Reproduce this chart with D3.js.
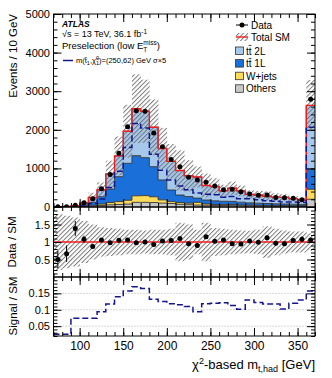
<!DOCTYPE html>
<html>
<head>
<meta charset="utf-8">
<script src="https://cdn.jsdelivr.net/npm/d3@7"></script>
<style>
  body { margin: 0; background: #fff; }
  svg { display: block; font-family: "Liberation Sans", Arial, sans-serif; }
</style>
</head>
<body>
<svg id="chart"></svg>
<script>
// bins of the chi2-based m_t,had distribution (10 GeV wide, last one is overflow)
const binLow = d3.range(70, 370, 10);
const dataCounts = [4, 8, 43, 112, 215, 475, 840, 1390, 2080, 2495, 2480, 1920, 1562, 1230, 1040,
  769, 699, 642, 544, 444, 462, 392, 337, 307, 311, 247, 237, 225, 190, 2790];
const others = [2, 3, 5, 15, 25, 40, 55, 65, 75, 120, 120, 115, 100, 90, 70,
  60, 50, 45, 40, 38, 36, 34, 30, 28, 26, 24, 22, 20, 18, 200];
const wjets = [1, 1, 3, 10, 20, 35, 60, 75, 100, 170, 175, 150, 85, 50, 45,
  40, 70, 35, 25, 25, 30, 20, 18, 15, 15, 14, 13, 12, 10, 260];
const ttbar1L = [2, 3, 9, 34, 76, 193, 351, 646, 956, 1040, 983, 780, 515, 300, 195,
  170, 110, 100, 95, 85, 80, 70, 60, 55, 50, 45, 42, 40, 35, 520];
const ttbar2L = [3, 5, 14, 45, 126, 180, 391, 538, 831, 1216, 1202, 1020, 817, 743, 635,
  539, 547, 378, 373, 271, 340, 293, 219, 212, 187, 174, 172, 144, 113, 1652];
const signalCounts = [0.2, 0.3, 2.3, 7.7, 18.3, 42, 101, 185, 308, 433, 409, 273, 190, 140, 109,
  89, 73, 66, 64, 51, 55, 42.5, 42.5, 37.8, 32.8, 30.3, 25.4, 25.9, 22.9, 413];
const sysUnc = [0.8, 0.75, 0.7, 0.6, 0.5, 0.42, 0.4, 0.38, 0.35, 0.35, 0.33, 0.35, 0.35, 0.38, 0.55,
  0.5, 0.35, 0.55, 0.4, 0.38, 0.35, 0.33, 0.32, 0.35, 0.45, 0.38, 0.33, 0.3, 0.3, 0.25];

const mainYTicks = [0, 1000, 2000, 3000, 4000, 5000];
const ratioYTicks = [0.5, 1, 1.5];
const sigYTicks = [0.05, 0.1, 0.15];
const xTicks = [100, 150, 200, 250, 300, 350];

const legendItems = [
  { name: "tt\u0304 2L", color: "#a6c8eb" },
  { name: "tt\u0304 1L", color: "#1a70d8" },
  { name: "W+jets", color: "#fddc5a" },
  { name: "Others", color: "#c8c8c8" }
];
const stackKeys = ["others", "wjets", "tt1L", "tt2L"];
const stackColors = { others: "#c8c8c8", wjets: "#fddc5a", tt1L: "#1a70d8", tt2L: "#a6c8eb" };

const width = 332, height = 378;
const left = 53.5, right = 315;
const mainTop = 14, mainBottom = 207, ratioBottom = 277, sigBottom = 336;

const svg = d3.select("#chart").attr("width", width).attr("height", height);

const x = d3.scaleLinear().domain([70, 370]).range([left, right]);
const yMain = d3.scaleLinear().domain([0, 5000]).range([mainBottom, mainTop]);
const yRatio = d3.scaleLinear().domain([0, 2]).range([ratioBottom, mainBottom]);
const ySig = d3.scaleLinear().domain([0.02, 0.2]).range([sigBottom, ratioBottom]);

const rows = binLow.map((lo, i) => ({
  lo: lo, hi: lo + 10,
  data: dataCounts[i],
  others: others[i], wjets: wjets[i], tt1L: ttbar1L[i], tt2L: ttbar2L[i],
  signal: signalCounts[i], unc: sysUnc[i]
}));
rows.forEach(d => { d.total = d.others + d.wjets + d.tt1L + d.tt2L; });

const defs = svg.append("defs");
defs.append("pattern")
  .attr("id", "hatch")
  .attr("patternUnits", "userSpaceOnUse")
  .attr("width", 3.2).attr("height", 3.2)
  .attr("patternTransform", "rotate(45)")
  .append("line")
  .attr("x1", 0.5).attr("y1", 0).attr("x2", 0.5).attr("y2", 3.2)
  .attr("stroke", "#6e6e6e").attr("stroke-width", 0.9);

function clip(id, top, bottom) {
  defs.append("clipPath").attr("id", id)
    .append("rect").attr("x", left).attr("y", top)
    .attr("width", right - left).attr("height", bottom - top);
}
clip("clipMain", mainTop, mainBottom);
clip("clipRatio", mainBottom, ratioBottom);
clip("clipSig", ratioBottom, sigBottom);

// step outline through every bin
function steps(valueFn, y) {
  let pts = [];
  rows.forEach(d => {
    pts.push([x(d.lo), y(valueFn(d))]);
    pts.push([x(d.hi), y(valueFn(d))]);
  });
  return d3.line()(pts);
}

// ---------- main panel ----------
let main = svg.append("g").attr("clip-path", "url(#clipMain)");
let stacked = d3.stack().keys(stackKeys)(rows);

let stepArea = d3.area().x(p => p.x).y0(p => p.y0).y1(p => p.y1);
stacked.forEach(layer => {
  let pts = [];
  layer.forEach(d => {
    pts.push({ x: x(d.data.lo), y0: yMain(d[0]), y1: yMain(d[1]) });
    pts.push({ x: x(d.data.hi), y0: yMain(d[0]), y1: yMain(d[1]) });
  });
  main.append("path")
    .attr("d", stepArea(pts))
    .attr("fill", stackColors[layer.key]);
});
stacked.forEach(layer => {
  let pts = [];
  layer.forEach(d => {
    pts.push([x(d.data.lo), yMain(d[1])]);
    pts.push([x(d.data.hi), yMain(d[1])]);
  });
  main.append("path")
    .attr("d", d3.line()(pts))
    .attr("fill", "none")
    .attr("stroke", layer.key == "tt2L" ? "#1c2a80" : "#333")
    .attr("stroke-width", 0.9);
});

main.append("g").selectAll("rect")
  .data(rows)
  .join("rect")
  .attr("x", d => x(d.lo))
  .attr("width", d => x(d.hi) - x(d.lo) + 0.3)
  .attr("y", d => yMain(d.total * (1 + d.unc)))
  .attr("height", d => yMain(d.total * (1 - d.unc)) - yMain(d.total * (1 + d.unc)))
  .attr("fill", "url(#hatch)");

main.append("path")
  .attr("d", steps(d => d.total, yMain))
  .attr("fill", "none").attr("stroke", "#f21d1d").attr("stroke-width", 1.4);

main.append("path")
  .attr("d", steps(d => d.signal * 5, yMain))
  .attr("fill", "none").attr("stroke", "#14168a").attr("stroke-width", 1.5)
  .attr("stroke-dasharray", "6,3");

let dataPts = main.append("g").selectAll("g").data(rows).join("g");
dataPts.append("line")
  .attr("x1", d => x(d.lo + 5)).attr("x2", d => x(d.lo + 5))
  .attr("y1", d => yMain(d.data + Math.sqrt(d.data)))
  .attr("y2", d => yMain(d.data - Math.sqrt(d.data)))
  .attr("stroke", "#000").attr("stroke-width", 1);
dataPts.append("circle")
  .attr("cx", d => x(d.lo + 5)).attr("cy", d => yMain(d.data))
  .attr("r", 2.5).attr("fill", "#000");

// ---------- ratio panel ----------
let ratio = svg.append("g").attr("clip-path", "url(#clipRatio)");
ratio.append("g").selectAll("rect")
  .data(rows)
  .join("rect")
  .attr("x", d => x(d.lo))
  .attr("width", d => x(d.hi) - x(d.lo) + 0.3)
  .attr("y", d => yRatio(1 + d.unc))
  .attr("height", d => yRatio(1 - d.unc) - yRatio(1 + d.unc))
  .attr("fill", "url(#hatch)");
ratio.append("line")
  .attr("x1", left).attr("x2", right)
  .attr("y1", yRatio(1)).attr("y2", yRatio(1))
  .attr("stroke", "#f21d1d").attr("stroke-width", 1.4);
let ratioPts = ratio.append("g").selectAll("g").data(rows).join("g");
ratioPts.append("line")
  .attr("x1", d => x(d.lo + 5)).attr("x2", d => x(d.lo + 5))
  .attr("y1", d => yRatio((d.data + Math.sqrt(d.data)) / d.total))
  .attr("y2", d => yRatio((d.data - Math.sqrt(d.data)) / d.total))
  .attr("stroke", "#000").attr("stroke-width", 1);
ratioPts.append("circle")
  .attr("cx", d => x(d.lo + 5)).attr("cy", d => yRatio(d.data / d.total))
  .attr("r", 2.5).attr("fill", "#000");

// ---------- signal / SM panel ----------
let sig = svg.append("g").attr("clip-path", "url(#clipSig)");
sig.append("g").selectAll("line")
  .data(sigYTicks)
  .join("line")
  .attr("x1", left).attr("x2", right)
  .attr("y1", d => ySig(d)).attr("y2", d => ySig(d))
  .attr("stroke", "#999").attr("stroke-width", 0.8).attr("stroke-dasharray", "1,2");
sig.append("path")
  .attr("d", steps(d => d.signal / d.total, ySig))
  .attr("fill", "none").attr("stroke", "#14168a").attr("stroke-width", 1.5)
  .attr("stroke-dasharray", "6,3");

// ---------- axes and frames ----------
function panelAxes(y, top, bottom, major, minor, fmt, showX) {
  let g = svg.append("g");
  let put = (axis, tx, ty) => {
    let a = g.append("g").attr("transform", `translate(${tx},${ty})`).call(axis);
    a.select(".domain").remove();
    a.attr("font-family", null).attr("font-size", null);
    a.selectAll("line").attr("stroke", "#000");
    return a;
  };
  put(d3.axisLeft(y).tickValues(major).tickSize(-8).tickPadding(3.5).tickFormat(fmt), left, 0)
    .selectAll("text").attr("font-size", 11).attr("fill", "#000");
  put(d3.axisLeft(y).tickValues(minor).tickSize(-4).tickFormat(""), left, 0);
  put(d3.axisRight(y).tickValues(major).tickSize(-8).tickFormat(""), right, 0);
  put(d3.axisRight(y).tickValues(minor).tickSize(-4).tickFormat(""), right, 0);

  let xMinor = d3.range(70, 371, 10);
  put(d3.axisTop(x).tickValues(xTicks).tickSize(-8).tickFormat(""), 0, top);
  put(d3.axisTop(x).tickValues(xMinor).tickSize(-4).tickFormat(""), 0, top);
  let xb = put(d3.axisBottom(x).tickValues(xTicks).tickSize(-8).tickPadding(5)
    .tickFormat(showX ? d3.format("d") : ""), 0, bottom);
  xb.selectAll("text").attr("font-size", 12).attr("fill", "#000");
  put(d3.axisBottom(x).tickValues(xMinor).tickSize(-4).tickFormat(""), 0, bottom);

  g.append("rect")
    .attr("x", left).attr("y", top)
    .attr("width", right - left).attr("height", bottom - top)
    .attr("fill", "none").attr("stroke", "#000").attr("stroke-width", 1);
}

panelAxes(yMain, mainTop, mainBottom, mainYTicks, d3.range(0, 5001, 200), d3.format("d"), false);
panelAxes(yRatio, mainBottom, ratioBottom, ratioYTicks, d3.range(0.1, 2, 0.1), d => d, false);
panelAxes(ySig, ratioBottom, sigBottom, sigYTicks, d3.range(0.02, 0.2, 0.01), d => d, true);

// ---------- axis titles ----------
svg.append("text")
  .attr("transform", "translate(16.5,14) rotate(-90)")
  .attr("text-anchor", "end").attr("font-size", 11.5)
  .text("Events / 10 GeV");
svg.append("text")
  .attr("transform", "translate(16,242) rotate(-90)")
  .attr("text-anchor", "middle").attr("font-size", 11.5)
  .text("Data / SM");
svg.append("text")
  .attr("transform", "translate(16.5,306) rotate(-90)")
  .attr("text-anchor", "middle").attr("font-size", 11.5)
  .text("Signal / SM");

let xt = svg.append("text")
  .attr("x", right).attr("y", 369)
  .attr("text-anchor", "end").attr("font-size", 13);
xt.append("tspan").text("\u03c7");
xt.append("tspan").attr("font-size", 9).attr("dy", -5).text("2");
xt.append("tspan").attr("dy", 5).text("-based m");
xt.append("tspan").attr("font-size", 9).attr("dy", 3).text("t,had");
xt.append("tspan").attr("dy", -3).text(" [GeV]");

// ---------- ATLAS labels ----------
svg.append("text")
  .attr("x", 62).attr("y", 26.5)
  .attr("font-size", 8.5).attr("font-weight", "bold").attr("font-style", "italic")
  .text("ATLAS");
let lumi = svg.append("text").attr("x", 62).attr("y", 37).attr("font-size", 9);
lumi.append("tspan").text("\u221as = 13 TeV, 36.1 fb");
lumi.append("tspan").attr("font-size", 6.5).attr("dy", -3.5).text("-1");
let presel = svg.append("text").attr("x", 62).attr("y", 49).attr("font-size", 9.5);
presel.append("tspan").text("Preselection (low E");
presel.append("tspan").attr("font-size", 6.5).attr("dy", 2.5).text("T");
presel.append("tspan").attr("font-size", 6.5).attr("dx", -4).attr("dy", -6.5).text("miss");
presel.append("tspan").attr("dy", 4).text(")");

svg.append("line")
  .attr("x1", 63).attr("x2", 73).attr("y1", 60.5).attr("y2", 60.5)
  .attr("stroke", "#14168a").attr("stroke-width", 1.5);
let sigLab = svg.append("text").attr("x", 76).attr("y", 63).attr("font-size", 7.5);
sigLab.append("tspan").text("m(t\u0303");
sigLab.append("tspan").attr("font-size", 5.5).attr("dy", 2).text("1");
sigLab.append("tspan").attr("dy", -2).text(",\u03c7\u0303");
sigLab.append("tspan").attr("font-size", 5.5).attr("dy", 2).text("1");
sigLab.append("tspan").attr("font-size", 5.5).attr("dx", -3).attr("dy", -5.5).text("0");
sigLab.append("tspan").attr("dy", 3.5).text(")=(250,62) GeV \u03c3\u00d75");

// ---------- legend ----------
let leg = svg.append("g");
leg.append("line").attr("x1", 236).attr("x2", 248).attr("y1", 25).attr("y2", 25)
  .attr("stroke", "#000").attr("stroke-width", 1);
leg.append("circle").attr("cx", 242).attr("cy", 25).attr("r", 2.5).attr("fill", "#000");
leg.append("text").attr("x", 251).attr("y", 28.5).attr("font-size", 10).text("Data");

leg.append("rect").attr("x", 236).attr("y", 33).attr("width", 12).attr("height", 8)
  .attr("fill", "url(#hatch)");
leg.append("line").attr("x1", 236).attr("x2", 248).attr("y1", 37).attr("y2", 37)
  .attr("stroke", "#f21d1d").attr("stroke-width", 1.4);
leg.append("text").attr("x", 251).attr("y", 41).attr("font-size", 10).text("Total SM");

let items = leg.selectAll(".item").data(legendItems).join("g").classed("item", true)
  .attr("transform", (d, i) => `translate(0,${51 + i * 12.6})`);
items.append("rect")
  .attr("x", 235.5).attr("y", -4).attr("width", 8).attr("height", 7.5)
  .attr("fill", d => d.color).attr("stroke", "#333").attr("stroke-width", 0.8);
items.append("text").attr("x", 246).attr("y", 3.5).attr("font-size", 10).text(d => d.name);
</script>
</body>
</html>
